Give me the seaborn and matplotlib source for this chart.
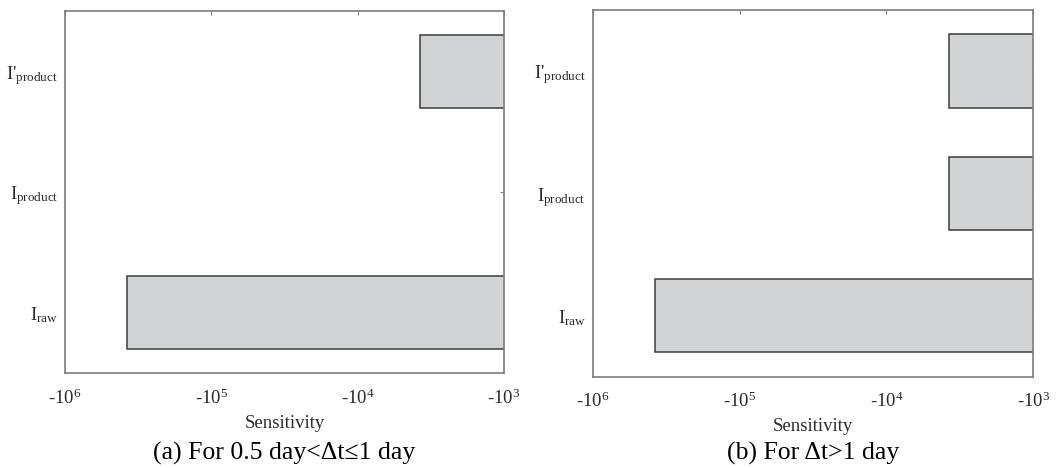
import matplotlib
matplotlib.use("Agg")
import matplotlib.pyplot as plt
import numpy as np
import pandas as pd
import seaborn as sns

# categories, top to bottom
labels = ["I'$_{\\mathrm{product}}$", "I$_{\\mathrm{product}}$", "I$_{\\mathrm{raw}}$"]
# sensitivity values (NaN = no bar)
sens_a = [-3.75e3, np.nan, -3.8e5]
sens_b = [-3.75e3, -3.75e3, -3.75e5]
captions = ["(a) For 0.5 day<\u0394t\u22641 day", "(b) For \u0394t>1 day"]
xtick_vals = [-1e6, -1e5, -1e4, -1e3]
xtick_labels = ["-10$^{6}$", "-10$^{5}$", "-10$^{4}$", "-10$^{3}$"]

sns.set_style("white")
plt.rcParams['font.family'] = ['Liberation Serif', 'DejaVu Serif']
plt.rcParams['mathtext.fontset'] = 'custom'
plt.rcParams['mathtext.rm'] = 'Liberation Serif'
plt.rcParams['mathtext.it'] = 'Liberation Serif:italic'
plt.rcParams['mathtext.bf'] = 'Liberation Serif:bold'

fig = plt.figure(figsize=(10.64, 4.68), dpi=100)
ax_a = fig.add_axes([0.0611, 0.203, 0.4126, 0.7735])
ax_b = fig.add_axes([0.557, 0.195, 0.4141, 0.7836])

spine_col = "#7d7d7d"
text_col = "#2a2a2a"

for ax, vals, cap in [(ax_a, sens_a, captions[0]), (ax_b, sens_b, captions[1])]:
    df = pd.DataFrame({"Variable": labels, "Sensitivity": vals})
    sns.barplot(data=df, x="Sensitivity", y="Variable", order=labels, orient="h",
                color="#d2d3d5", saturation=1, edgecolor="#3c3c3c", linewidth=1.1,
                width=0.6, ax=ax)
    ax.set_xscale("symlog", linthresh=10)
    ax.set_xlim(-1e6, -1e3)
    ax.set_ylim(2.5, -0.5)
    ax.set_xticks(xtick_vals)
    ax.set_xticklabels(xtick_labels)
    ax.xaxis.set_minor_locator(matplotlib.ticker.NullLocator())
    ax.set_xlabel("Sensitivity", fontsize=13.5, color=text_col, labelpad=5)
    ax.set_ylabel("")
    ax.tick_params(axis="both", direction="in", length=3, width=0.8, color=spine_col,
                   top=True, right=True, labelsize=13.5, labelcolor=text_col)
    ax.tick_params(axis="x", pad=11)
    ax.tick_params(axis="y", pad=5)
    for s in ax.spines.values():
        s.set_visible(True)
        s.set_color(spine_col)
        s.set_linewidth(1.2)
    pos = ax.get_position()
    fig.text((pos.x0 + pos.x1) / 2, 0.017, cap, ha="center", va="baseline",
             fontsize=18.5, color="black")

plt.savefig("out.png", dpi=100)
